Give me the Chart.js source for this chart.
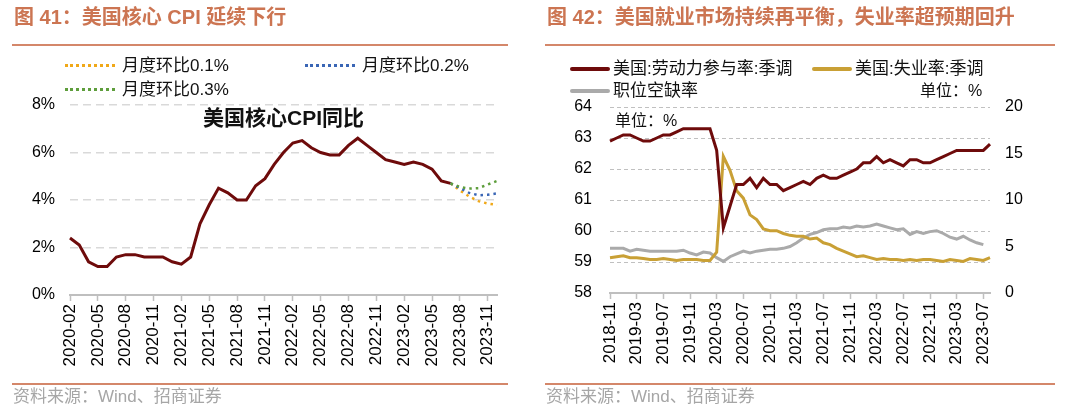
<!DOCTYPE html>
<html><head><meta charset="utf-8">
<script src="https://cdn.jsdelivr.net/npm/chart.js@4/dist/chart.umd.min.js"></script>
<style>
body{margin:0;width:1080px;height:412px;background:#fff;position:relative;overflow:hidden;font-family:"Liberation Sans","Noto Sans CJK SC",sans-serif;}
.abs{position:absolute;white-space:nowrap;line-height:20px;}
.hdr{font-size:20px;font-weight:bold;color:#CC7552;line-height:24px;}
.rule{position:absolute;height:2px;background:#D4876A;}
.src{font-size:17px;color:#A6A6A6;}
.leg{font-size:17px;color:#111;}
.dot{position:absolute;height:0;width:50px;}
.sol{position:absolute;height:4px;width:40px;border-radius:2px;}
</style></head><body>
<canvas id="c1" width="540" height="412" style="position:absolute;left:0;top:0"></canvas>
<canvas id="c2" width="540" height="412" style="position:absolute;left:540px;top:0"></canvas>

<div class="abs hdr" style="left:14px;top:5px">图 41：美国核心 CPI 延续下行</div>
<div class="rule" style="left:12px;top:44px;width:496px"></div>
<div class="rule" style="left:12px;top:383px;width:496px"></div>
<div class="abs src" style="left:13px;top:387px">资料来源：Wind、招商证券</div>

<div class="abs hdr" style="left:547px;top:5px">图 42：美国就业市场持续再平衡，失业率超预期回升</div>
<div class="rule" style="left:545px;top:44px;width:510px"></div>
<div class="rule" style="left:545px;top:383px;width:510px"></div>
<div class="abs src" style="left:546px;top:387px">资料来源：Wind、招商证券</div>

<!-- left legend -->
<div class="dot" style="left:65px;top:64px;border-top:3px dotted #F0A818"></div>
<div class="abs leg" style="left:122px;top:56px">月度环比0.1%</div>
<div class="dot" style="left:305px;top:64px;border-top:3px dotted #3A66B5"></div>
<div class="abs leg" style="left:362px;top:56px">月度环比0.2%</div>
<div class="dot" style="left:65px;top:88px;border-top:3px dotted #5E9E3C"></div>
<div class="abs leg" style="left:122px;top:80px">月度环比0.3%</div>
<div class="abs" style="left:203px;top:107px;font-size:21px;font-weight:bold;line-height:22px;color:#111">美国核心CPI同比</div>

<!-- right legend -->
<div class="sol" style="left:570px;top:67px;background:#6E0B0B"></div>
<div class="abs leg" style="left:613px;top:59px">美国:劳动力参与率:季调</div>
<div class="sol" style="left:812px;top:67px;background:#C9A035"></div>
<div class="abs leg" style="left:855px;top:59px">美国:失业率:季调</div>
<div class="sol" style="left:570px;top:89px;background:#AAAAAA"></div>
<div class="abs leg" style="left:613px;top:81px">职位空缺率</div>
<div class="abs leg" style="left:920px;top:81px;font-size:16px">单位：%</div>
<div class="abs leg" style="left:615px;top:111px;font-size:16px">单位：%</div>

<script>
function monthRange(y0, m0, n){
  const out=[]; let y=y0, m=m0;
  for(let i=0;i<n;i++){ out.push(y+'-'+String(m).padStart(2,'0')); m++; if(m>12){m=1;y++;} }
  return out;
}
// ---------- Chart 41 data ----------
const cpiMonths = monthRange(2020, 2, 47); // 2020-02 .. 2023-12
const coreCpiYoY = [2.4,2.1,1.4,1.2,1.2,1.6,1.7,1.7,1.6,1.6,1.6,
  1.4,1.3,1.6,3.0,3.8,4.5,4.3,4.0,4.0,4.6,4.9,5.5,
  6.0,6.4,6.5,6.2,6.0,5.9,5.9,6.3,6.6,6.3,6.0,5.7,
  5.6,5.5,5.6,5.5,5.3,4.8,4.7];
const projStart = 4.7; // 2023-07
const proj01 = [4.4,4.15,3.95,3.85,3.8];   // 2023-08..2023-12
const proj02 = [4.5,4.3,4.2,4.22,4.28];
const proj03 = [4.55,4.48,4.5,4.65,4.8];
const cpiTicks = [0,2,4,6,8];

// ---------- Chart 42 data ----------
const jobMonths = monthRange(2018, 11, 58); // 2018-11 .. 2023-08
const lfpr = [62.9,63.0,
  63.1,63.1,63.0,62.9,62.9,63.0,63.1,63.1,63.2,63.3,63.3,63.3,
  63.3,63.3,62.6,60.1,60.8,61.5,61.5,61.7,61.4,61.7,61.5,61.5,
  61.3,61.4,61.5,61.6,61.5,61.7,61.8,61.7,61.7,61.8,61.9,62.0,
  62.2,62.2,62.4,62.2,62.3,62.2,62.1,62.3,62.3,62.2,62.2,62.3,
  62.4,62.5,62.6,62.6,62.6,62.6,62.6,62.8];
const unemp = [3.8,3.9,
  4.0,3.8,3.8,3.7,3.6,3.6,3.7,3.6,3.5,3.6,3.6,3.6,
  3.5,3.5,4.4,14.7,13.2,11.0,10.2,8.4,7.9,6.9,6.7,6.7,
  6.4,6.2,6.1,6.1,5.8,5.9,5.4,5.2,4.8,4.5,4.2,3.9,
  4.0,3.8,3.6,3.7,3.6,3.6,3.5,3.6,3.5,3.6,3.6,3.5,
  3.4,3.6,3.5,3.4,3.7,3.6,3.5,3.8];
const vacancy = [4.8,4.8,
  4.8,4.5,4.7,4.6,4.5,4.5,4.5,4.5,4.5,4.6,4.3,4.1,
  4.4,4.3,3.8,3.4,3.9,4.2,4.5,4.3,4.5,4.6,4.7,4.7,
  4.8,5.0,5.4,5.9,6.3,6.5,6.8,6.9,6.9,7.1,7.0,7.2,
  7.1,7.2,7.4,7.2,7.0,6.8,6.9,6.3,6.6,6.4,6.6,6.7,
  6.4,6.0,5.8,6.1,5.7,5.4,5.2,null];

// ---------- build chart 41 ----------
function padProj(arr){
  const d = new Array(cpiMonths.length).fill(null);
  const s = coreCpiYoY.length-1;
  d[s] = projStart;
  arr.forEach((v,i)=>{ d[s+1+i]=v; });
  return d;
}
Chart.defaults.font.family = '"Liberation Sans","Noto Sans CJK SC",sans-serif';
Chart.defaults.color = '#000';

new Chart(document.getElementById('c1'), {
  type:'line',
  data:{ labels:cpiMonths, datasets:[
    {data:coreCpiYoY, borderColor:'#6E0B0B', borderWidth:3, pointRadius:0, tension:0, order:4},
    {data:padProj(proj01), borderColor:'#F0A818', borderWidth:2.5, borderDash:[2.5,4], pointRadius:0, order:3},
    {data:padProj(proj02), borderColor:'#3A66B5', borderWidth:2.5, borderDash:[2.5,4], pointRadius:0, order:2},
    {data:padProj(proj03), borderColor:'#5E9E3C', borderWidth:2.5, borderDash:[2.5,4], pointRadius:0, order:1}
  ]},
  options:{
    responsive:false, animation:false, devicePixelRatio:1,
    layout:{padding:{left:10,right:43,top:105,bottom:32}},
    plugins:{legend:{display:false}, tooltip:{enabled:false}},
    scales:{
      x:{
        offset:false,
        grid:{drawOnChartArea:false, drawTicks:true, tickLength:6, tickColor:'#BFBFBF', tickWidth:1.5},
        border:{color:'#BFBFBF', width:2},
        ticks:{autoSkip:false, minRotation:90, maxRotation:90, padding:3, font:{size:17},
          callback:function(v,i){ return i%3===0 ? this.getLabelForValue(v) : null; }},
        afterFit:s=>{ s.height=85; }
      },
      y:{
        min:0, max:8,
        afterBuildTicks:s=>{ s.ticks = cpiTicks.map(v=>({value:v})); },
        grid:{drawTicks:false, lineWidth:1.5, color:c=> c.tick && c.tick.value===0 ? 'rgba(0,0,0,0)' : '#D9D9D9'},
        border:{display:false, dash:[8,5]},
        ticks:{padding:15, font:{size:16}, callback:v=>v+'%'},
        afterFit:s=>{ s.width=60; }
      }
    }
  }
});

// ---------- build chart 42 ----------
new Chart(document.getElementById('c2'), {
  type:'line',
  data:{ labels:jobMonths, datasets:[
    {data:vacancy, yAxisID:'y2', borderColor:'#AAAAAA', borderWidth:3, pointRadius:0, tension:0, order:3},
    {data:unemp, yAxisID:'y2', borderColor:'#C9A035', borderWidth:3, pointRadius:0, tension:0, order:2},
    {data:lfpr, yAxisID:'y', borderColor:'#6E0B0B', borderWidth:3, pointRadius:0, tension:0, order:1}
  ]},
  options:{
    responsive:false, animation:false, devicePixelRatio:1,
    layout:{padding:{left:10,right:40,top:107,bottom:34}},
    plugins:{legend:{display:false}, tooltip:{enabled:false}},
    scales:{
      x:{
        offset:false,
        grid:{drawOnChartArea:false, drawTicks:true, tickLength:6, tickColor:'#BFBFBF', tickWidth:1.5},
        border:{color:'#BFBFBF', width:2},
        ticks:{autoSkip:false, minRotation:90, maxRotation:90, padding:3, font:{size:17},
          callback:function(v,i){ return i%4===0 ? this.getLabelForValue(v) : null; }},
        afterFit:s=>{ s.height=85; }
      },
      y:{
        position:'left', min:58, max:64,
        ticks:{stepSize:1, padding:18, font:{size:16}},
        grid:{drawTicks:false, lineWidth:1, color:c=> c.tick && c.tick.value===58 ? 'rgba(0,0,0,0)' : '#C0C0C0'},
        border:{display:false, dash:[4,3]},
        afterFit:s=>{ s.width=60; }
      },
      y2:{
        position:'right', min:0, max:20,
        ticks:{stepSize:5, padding:15, font:{size:16}},
        grid:{drawOnChartArea:false, drawTicks:false},
        border:{display:false},
        afterFit:s=>{ s.width=50; }
      }
    }
  }
});
</script>
</body></html>
